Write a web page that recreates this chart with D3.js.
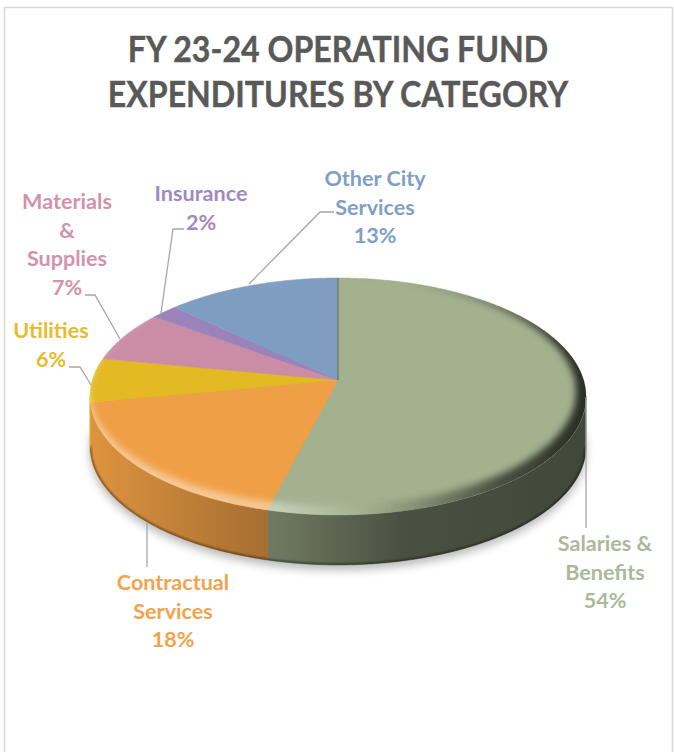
<!DOCTYPE html>
<html><head><meta charset="utf-8">
<script src="https://cdn.jsdelivr.net/npm/d3@7/dist/d3.min.js"></script>
<style>html,body{margin:0;padding:0;background:#fff;overflow:hidden}svg{display:block}text{font-family:Lato,"Open Sans",sans-serif;font-weight:700;text-anchor:middle}</style>
</head><body><svg id="c" width="674" height="752"></svg>
<script>
const categories = ["Salaries & Benefits","Contractual Services","Utilities","Materials & Supplies","Insurance","Other City Services"];
const values = [54,18,6,7,2,13];
const sliceColors = ["#a3b18f","#ef9f45","#e3b924","#cb8da5","#9a82ba","#7f9dc1"];
const labelColors = ["#a9b999","#f4a24c","#e9ba2e","#d492aa","#a088c4","#7e9fc8"];
const labelLines = [["Salaries &","Benefits"],["Contractual","Services"],["Utilities"],["Materials","&","Supplies"],["Insurance"],["Other City","Services"]];
const titleLines = ["FY 23-24 OPERATING FUND","EXPENDITURES BY CATEGORY"];

// layout
const cx=338, cy=380, kx=245.6, ky=116.2, persp=0.139, depth=50;
const labelAnchors=[[605,551],[173,590],[51,338],[67,209],[201,201],[375,186]];
const lineHeight=28.7;
const leaders=[[[586,397],[586,528]],[[147,523],[147,567]],[[69,367],[80,367],[91,385]],[[85,295],[95,295],[120,339]],[[184,229],[173,229],[161,313]],[[334,212],[320,212],[249,284]]];

const svg=d3.select("#c"), defs=svg.append("defs");
const project=(a,dy=0)=>{const u=Math.sin(a),v=-Math.cos(a),w=1-persp*v;return [cx+kx*u/w,cy+ky*v/w+dy];};
const line=d3.line();
const arcPts=(a0,a1,dy=0)=>{const n=Math.max(2,Math.ceil((a1-a0)/0.01));return d3.range(n+1).map(i=>project(a0+(a1-a0)*i/n,dy));};
const full=arcPts(0,2*Math.PI);
const fullPath=line(full)+"Z";
const ymin=d3.min(full,d=>d[1]);
const scaled=(sx,sy,dx=0)=>full.map(([x,y])=>[cx+dx+(x-cx)*sx,ymin+(y-ymin)*sy]);
const arcs=d3.pie().sort(null).value(d=>d)(values);

// visible front of the side wall: between the two silhouette angles
const frontA=Math.acos(-persp), frontB=2*Math.PI-frontA;

// frame
svg.append("path").attr("d","M4.5,752V7.5H672.5V752").attr("fill","none").attr("stroke","#d9d9d9").attr("stroke-width",1.6);

// filters
const blur=(id,s)=>defs.append("filter").attr("id",id).attr("x","-20%").attr("y","-20%").attr("width","140%").attr("height","140%").append("feGaussianBlur").attr("stdDeviation",s);
blur("b5",5);blur("b3",3.5);blur("b1",1.2);
defs.append("clipPath").attr("id","topClip").append("path").attr("d",fullPath);

const wallShade=d3.scaleLinear().domain([90,270,400,586]).range([.93,.69,.46,.40]);
const wallStops=[90,150,210,270,335,400,500,586];
const frac=d3.scaleLinear().domain([90,586]).range([0,1]);
sliceColors.forEach((c,i)=>{
  const g=defs.append("linearGradient").attr("id","wall"+i).attr("gradientUnits","userSpaceOnUse").attr("x1",90).attr("x2",586).attr("y1",0).attr("y2",0);
  wallStops.forEach(x=>{const k=wallShade(x),r=d3.rgb(c);g.append("stop").attr("offset",frac(x)).attr("stop-color",d3.rgb(r.r*k,r.g*k,r.b*k).formatHex());});
});
const rim=defs.append("linearGradient").attr("id","rim").attr("gradientUnits","userSpaceOnUse").attr("x1",90).attr("x2",586).attr("y1",0).attr("y2",0);
[[90,"#fff",.45],[270,"#fff",.42],[340,"#fff",.1],[400,"#000",.12],[500,"#000",.55],[586,"#000",.75]].forEach(([x,c,o])=>rim.append("stop").attr("offset",frac(x)).attr("stop-color",c).attr("stop-opacity",o));

// shadow
svg.append("path").attr("d",line(full.map(([x,y])=>[x,y+depth+5]))+"Z").attr("fill","#000").attr("opacity",.28).attr("filter","url(#b5)");

// walls
const clampFront=d=>[Math.max(d.startAngle,frontA),Math.min(d.endAngle,frontB)];
svg.append("g").selectAll("path").data(arcs.filter(d=>d.startAngle<frontB&&d.endAngle>frontA)).join("path")
  .attr("d",d=>{const [a,b]=clampFront(d);return line(arcPts(a,b).concat(arcPts(a,b,depth).reverse()))+"Z";})
  .attr("fill",d=>`url(#wall${d.index})`).attr("stroke",d=>`url(#wall${d.index})`).attr("stroke-width",.6);

// bottom edge darkening
defs.append("clipPath").attr("id","wallClip").append("path").attr("d",line(arcPts(frontA,frontB).concat(arcPts(frontA,frontB,depth).reverse()))+"Z");
svg.append("g").attr("clip-path","url(#wallClip)").append("path")
  .attr("d",line(arcPts(frontA,frontB,depth)))
  .attr("fill","none").attr("stroke","#000").attr("stroke-opacity",.45).attr("stroke-width",3).attr("filter","url(#b1)");

// top faces
svg.append("g").selectAll("path").data(arcs).join("path")
  .attr("d",d=>line([[cx,cy]].concat(arcPts(d.startAngle,d.endAngle)))+"Z")
  .attr("fill",(d,i)=>sliceColors[i]).attr("stroke",(d,i)=>sliceColors[i]).attr("stroke-width",.5);

// rim bevel
svg.append("g").attr("clip-path","url(#topClip)").append("path")
  .attr("d",line(scaled(1.06,1.05))+"Z"+line(scaled(.98,.96,-5))+"Z").attr("fill-rule","evenodd").attr("fill","url(#rim)").attr("filter","url(#b3)");

// thin seam at twelve o'clock
svg.append("path").attr("d",line([[cx,cy],project(0)])).attr("stroke","#5f6f4a").attr("stroke-width",1).attr("fill","none");

// leaders
svg.append("g").selectAll("path").data(leaders).join("path")
  .attr("d",d=>line(d)).attr("fill","none").attr("stroke","#a6a6a6").attr("stroke-width",1.3);

// labels
const fmt=d3.format(".0f");
const lab=svg.append("g").selectAll("text").data(arcs).join("text")
  .attr("font-size",21.6).attr("fill",(d,i)=>labelColors[i]);
lab.each(function(d,i){
  const t=d3.select(this),[x,y]=labelAnchors[i];
  labelLines[i].concat([fmt(d.value)+"%"]).forEach((s,j)=>t.append("tspan").attr("x",x).attr("y",y+j*lineHeight).text(s));
});

// title
svg.append("g").attr("transform","translate(338,0) scale(.892,1)").selectAll("text").data(titleLines).join("text")
  .attr("x",0).attr("y",(d,i)=>62.5+i*45).attr("font-size",36).attr("fill","#595959").attr("stroke","#595959").attr("stroke-width",.4).text(d=>d);
</script></body></html>
